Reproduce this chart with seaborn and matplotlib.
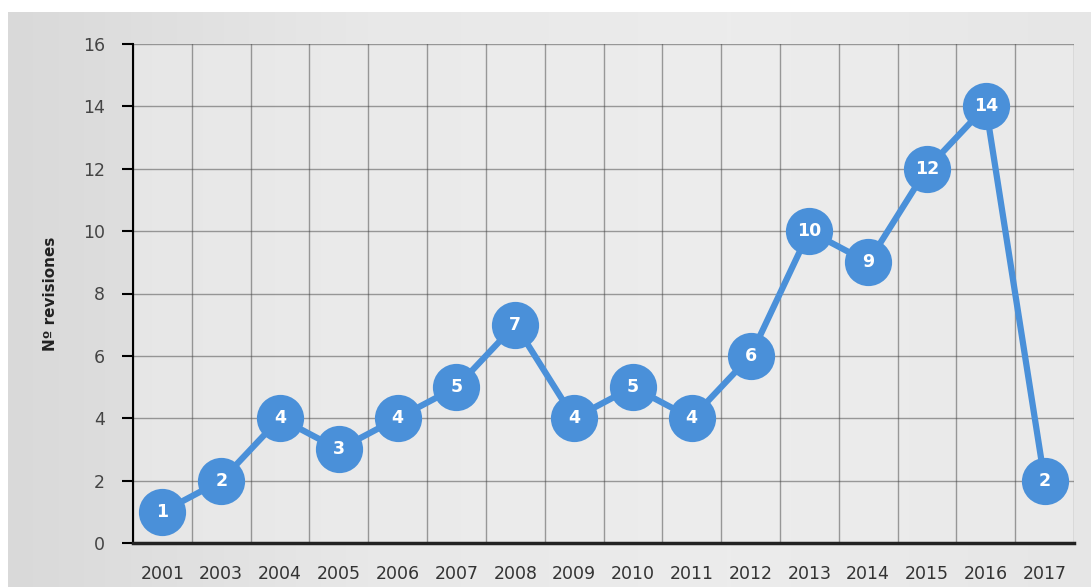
import numpy as np
import pandas as pd
import seaborn as sns
import matplotlib.pyplot as plt

# values
years = ['2001', '2003', '2004', '2005', '2006', '2007', '2008', '2009',
         '2010', '2011', '2012', '2013', '2014', '2015', '2016', '2017']
revisions = [1, 2, 4, 3, 4, 5, 7, 4, 5, 4, 6, 10, 9, 12, 14, 2]

df = pd.DataFrame({'year': years, 'revisions': revisions})

sns.set_style('white')
plt.rcParams['font.family'] = ['DejaVu Sans']

fig = plt.figure(figsize=(10.91, 5.87), dpi=100, facecolor='white')

# light grey gradient backdrop like the scanned picture
bg = fig.add_axes([8 / 1091, 0, 1 - 8 / 1091, 1 - 12 / 587])
grad = np.linspace(0, 1, 256)
grad = np.vstack([grad] * 4)
bg.imshow(grad, aspect='auto', cmap=plt.cm.colors.LinearSegmentedColormap.from_list(
    'bgc', ['#d9d9d9', '#e8e8e8', '#ececec', '#e6e6e6']), extent=[0, 1, 0, 1])
bg.set_axis_off()

ax = fig.add_axes([133 / 1091, 44 / 587, (1074 - 133) / 1091, (543 - 44) / 587])
ax.set_facecolor('#ededed')
ax.patch.set_alpha(0.6)

color = '#4a90d9'
sns.lineplot(data=df, x='year', y='revisions', ax=ax, color=color, linewidth=4.5,
             marker='o', markersize=34, markeredgewidth=0, sort=False, zorder=3)

for i, v in enumerate(revisions):
    ax.text(i, v, str(v), ha='center', va='center', color='white',
            fontsize=12.5, fontweight='bold', zorder=4)

ax.set_xlim(-0.5, len(years) - 0.5)
ax.set_ylim(0, 16)
ax.set_yticks(range(0, 17, 2))
ax.set_xticks(np.arange(-0.5, len(years), 1), minor=True)
ax.grid(True, which='minor', axis='x', color='#444444', linewidth=1, alpha=0.5)
ax.grid(True, which='major', axis='y', color='#444444', linewidth=1, alpha=0.5)
ax.grid(False, which='major', axis='x')

for s in ['top', 'right']:
    ax.spines[s].set_visible(False)
ax.spines['left'].set_color('black')
ax.spines['left'].set_linewidth(1.5)
ax.spines['bottom'].set_color('#222222')
ax.spines['bottom'].set_linewidth(2.5)

ax.tick_params(axis='y', which='major', left=True, length=8, width=1.5,
               color='black', labelsize=12.5, labelcolor='#444444', pad=12)
ax.tick_params(axis='x', which='major', bottom=False, labelsize=12.5,
               labelcolor='#333333', pad=12)
ax.tick_params(axis='x', which='minor', bottom=False)

ax.set_xlabel('')
ax.set_ylabel('Nº revisiones', fontsize=11, fontweight='bold', color='#222222', labelpad=18)

fig.savefig('out.png', dpi=100, facecolor='white')
